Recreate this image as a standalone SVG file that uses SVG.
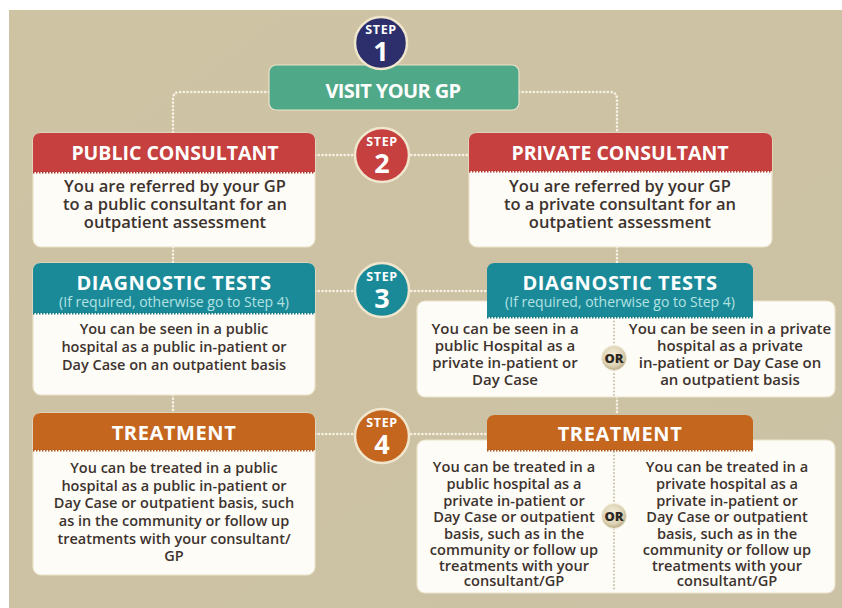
<svg xmlns="http://www.w3.org/2000/svg" width="842" height="608" viewBox="0 0 842 608">
  <defs>
    <radialGradient id="orFill" cx="45%" cy="40%" r="60%">
      <stop offset="0" stop-color="#f6f0de"/>
      <stop offset="0.7" stop-color="#ddd2b4"/>
      <stop offset="1" stop-color="#b7aa85"/>
    </radialGradient>
    <linearGradient id="bgFill" x1="0" y1="0" x2="1" y2="1">
      <stop offset="0" stop-color="#cec3a3"/>
      <stop offset="1" stop-color="#cbc1a4"/>
    </linearGradient>
  </defs>
  <style>
    .title { font-family: "Open Sans", "Liberation Sans", sans-serif; font-weight: 700; fill: #ffffff; text-anchor: middle; }
    .sub { font-family: "Open Sans", "Liberation Sans", sans-serif; font-size: 14px; fill: #b3e2e3; text-anchor: middle; }
    .body { font-family: "Open Sans", "Liberation Sans", sans-serif; font-weight: 600; fill: #3d332e; text-anchor: middle; }
    .card { fill: #fdfcf7; stroke: #ebe3cc; stroke-width: 1.2; }
    .link { fill: none; stroke: #f6f1e2; stroke-width: 2.6; stroke-dasharray: 0.1 3.6; stroke-linecap: round; }
    .split { fill: none; stroke: #c9c0a6; stroke-width: 2; stroke-dasharray: 0.1 3.4; stroke-linecap: round; }
    .pink { fill: none; stroke-width: 2; stroke-dasharray: 1.5 1.5; }
    .ring { stroke: #efe6cd; stroke-width: 2.5; }
    .step { font-family: "Open Sans", "Liberation Sans", sans-serif; font-weight: 700; font-size: 12.5px; letter-spacing: 0.6px; fill: #ffffff; text-anchor: middle; }
    .num { font-family: "Open Sans", "Liberation Sans", sans-serif; font-weight: 700; font-size: 27px; fill: #ffffff; text-anchor: middle; }
    .or { font-family: "Open Sans", "Liberation Sans", sans-serif; font-weight: 800; font-size: 13px; fill: #2e2823; text-anchor: middle; }
  </style>

  <!-- page -->
  <rect x="0" y="0" width="842" height="608" fill="#ffffff"/>
  <rect x="9" y="10" width="833" height="598" fill="url(#bgFill)"/>

  <!-- dotted connectors -->
  <g id="connectors">
    <path class="link" d="M269 92 H180 Q173 92 173 99 V133"/>
    <path class="link" d="M519 92 H610 Q617 92 617 99 V133"/>
    <path class="link" d="M315 155 H469"/>
    <path class="link" d="M173 247 V263"/>
    <path class="link" d="M617 247 V263"/>
    <path class="link" d="M315 291 H487"/>
    <path class="link" d="M173 395 V413"/>
    <path class="link" d="M617 397 V415"/>
    <path class="link" d="M315 434 H487"/>
  </g>

  <!-- step 1: visit GP -->
  <g id="visit-gp">
    <rect x="269" y="65" width="250" height="45" rx="7" fill="#4fa887" stroke="#e9e2cb" stroke-width="1.2"/>
    <text class="title" x="393" y="98" font-size="20" letter-spacing="-0.6">VISIT YOUR GP</text>
  </g>
  <g id="step-1">
    <circle class="ring" cx="381" cy="43" r="26" fill="#2c2f6b"/>
    <text class="step" x="381" y="34">STEP</text>
    <text class="num" x="381" y="61">1</text>
  </g>

  <!-- step 2: consultants -->
  <g id="public-consultant">
    <rect class="card" x="33" y="133" width="282" height="114" rx="8"/>
    <path d="M33 172 V141 Q33 133 41 133 H307 Q315 133 315 141 V172 Z" fill="#c5403e"/>
    <line class="pink" x1="33" y1="172.5" x2="315" y2="172.5" stroke="#b23432"/>
    <text class="title" x="175" y="160" font-size="19.5">PUBLIC CONSULTANT</text>
    <text class="body" font-size="16.5"><tspan x="175" y="192">You are referred by your GP</tspan><tspan x="175" y="210">to a public consultant for an</tspan><tspan x="175" y="228">outpatient assessment</tspan></text>
  </g>
  <g id="step-2">
    <circle class="ring" cx="382" cy="155" r="27" fill="#c5403e"/>
    <text class="step" x="382" y="146">STEP</text>
    <text class="num" x="382" y="173">2</text>
  </g>
  <g id="private-consultant">
    <rect class="card" x="469" y="133" width="303" height="114" rx="8"/>
    <path d="M469 171 V141 Q469 133 477 133 H764 Q772 133 772 141 V171 Z" fill="#c5403e"/>
    <line class="pink" x1="469" y1="171.5" x2="772" y2="171.5" stroke="#b23432"/>
    <text class="title" x="620" y="160" font-size="19.5">PRIVATE CONSULTANT</text>
    <text class="body" font-size="16.5"><tspan x="620" y="192">You are referred by your GP</tspan><tspan x="620" y="210">to a private consultant for an</tspan><tspan x="620" y="228">outpatient assessment</tspan></text>
  </g>

  <!-- step 3: diagnostic tests -->
  <g id="diagnostic-public">
    <rect class="card" x="33" y="263" width="282" height="132" rx="8"/>
    <path d="M33 313 V271 Q33 263 41 263 H307 Q315 263 315 271 V313 Z" fill="#1b8a98"/>
    <line class="pink" x1="33" y1="313.5" x2="315" y2="313.5" stroke="#137482"/>
    <text class="title" x="174" y="290" font-size="20" letter-spacing="0.6">DIAGNOSTIC TESTS</text>
    <text class="sub" x="174" y="307">(If required, otherwise go to Step 4)</text>
    <text class="body" font-size="14.5"><tspan x="174" y="334">You can be seen in a public</tspan><tspan x="174" y="352">hospital as a public in-patient or</tspan><tspan x="174" y="370">Day Case on an outpatient basis</tspan></text>
  </g>
  <g id="step-3">
    <circle class="ring" cx="382" cy="290" r="27" fill="#1b8a98"/>
    <text class="step" x="382" y="281">STEP</text>
    <text class="num" x="382" y="308">3</text>
  </g>
  <g id="diagnostic-private">
    <rect class="card" x="417" y="301" width="418" height="96" rx="8"/>
    <path class="split" d="M614 318 V396"/>
    <path d="M487 317 V271 Q487 263 495 263 H745 Q753 263 753 271 V317 Z" fill="#1b8a98"/>
    <line class="pink" x1="487" y1="317.5" x2="753" y2="317.5" stroke="#137482"/>
    <text class="title" x="620" y="290" font-size="20" letter-spacing="0.6">DIAGNOSTIC TESTS</text>
    <text class="sub" x="620" y="307">(If required, otherwise go to Step 4)</text>
    <text class="body" font-size="15"><tspan x="505" y="334">You can be seen in a</tspan><tspan x="505" y="351">public Hospital as a</tspan><tspan x="505" y="368">private in-patient or</tspan><tspan x="505" y="385">Day Case</tspan></text>
    <text class="body" font-size="15"><tspan x="730" y="334">You can be seen in a private</tspan><tspan x="730" y="351">hospital as a private</tspan><tspan x="730" y="368">in-patient or Day Case on</tspan><tspan x="730" y="385">an outpatient basis</tspan></text>
    <circle cx="614" cy="358" r="12.5" fill="url(#orFill)" stroke="#f4eedd" stroke-width="1"/>
    <text class="or" x="614" y="363">OR</text>
  </g>

  <!-- step 4: treatment -->
  <g id="treatment-public">
    <rect class="card" x="33" y="413" width="282" height="162" rx="8"/>
    <path d="M33 450 V421 Q33 413 41 413 H307 Q315 413 315 421 V450 Z" fill="#c5661f"/>
    <line class="pink" x1="33" y1="450.5" x2="315" y2="450.5" stroke="#a9531a"/>
    <text class="title" x="174" y="440" font-size="20" letter-spacing="0.6">TREATMENT</text>
    <text class="body" font-size="14.5"><tspan x="174" y="473">You can be treated in a public</tspan><tspan x="174" y="491">hospital as a public in-patient or</tspan><tspan x="174" y="508">Day Case or outpatient basis, such</tspan><tspan x="174" y="526">as in the community or follow up</tspan><tspan x="174" y="544">treatments with your consultant/</tspan><tspan x="174" y="561">GP</tspan></text>
  </g>
  <g id="step-4">
    <circle class="ring" cx="382" cy="436" r="27" fill="#c5661f"/>
    <text class="step" x="382" y="427">STEP</text>
    <text class="num" x="382" y="454">4</text>
  </g>
  <g id="treatment-private">
    <rect class="card" x="417" y="440" width="418" height="153" rx="8"/>
    <path class="split" d="M614 452 V591"/>
    <path d="M487 450 V423 Q487 415 495 415 H745 Q753 415 753 423 V450 Z" fill="#c5661f"/>
    <line class="pink" x1="487" y1="450.5" x2="753" y2="450.5" stroke="#a9531a"/>
    <text class="title" x="620" y="441" font-size="20" letter-spacing="0.6">TREATMENT</text>
    <text class="body" font-size="14.6"><tspan x="514" y="472">You can be treated in a</tspan><tspan x="514" y="489">public hospital as a</tspan><tspan x="514" y="506">private in-patient or</tspan><tspan x="514" y="522">Day Case or outpatient</tspan><tspan x="514" y="539">basis, such as in the</tspan><tspan x="514" y="555">community or follow up</tspan><tspan x="514" y="571">treatments with your</tspan><tspan x="514" y="586">consultant/GP</tspan></text>
    <text class="body" font-size="14.6"><tspan x="727" y="472">You can be treated in a</tspan><tspan x="727" y="489">private hospital as a</tspan><tspan x="727" y="506">private in-patient or</tspan><tspan x="727" y="522">Day Case or outpatient</tspan><tspan x="727" y="539">basis, such as in the</tspan><tspan x="727" y="555">community or follow up</tspan><tspan x="727" y="571">treatments with your</tspan><tspan x="727" y="586">consultant/GP</tspan></text>
    <circle cx="614" cy="516" r="12.5" fill="url(#orFill)" stroke="#f4eedd" stroke-width="1"/>
    <text class="or" x="614" y="521">OR</text>
  </g>
</svg>
